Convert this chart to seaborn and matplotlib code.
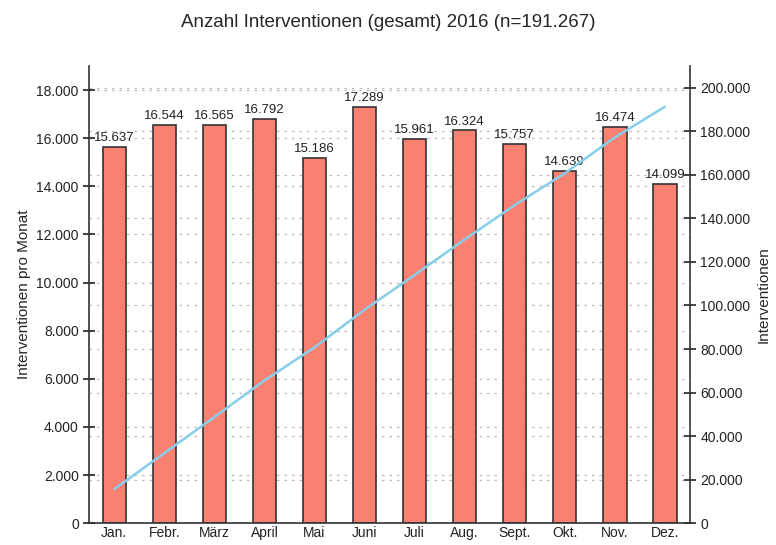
import matplotlib
matplotlib.use("Agg")
import matplotlib.pyplot as plt
import matplotlib.ticker as mticker
import seaborn as sns
import numpy as np
import pandas as pd

months = ["Jan.", "Febr.", "März", "April", "Mai", "Juni", "Juli", "Aug.",
          "Sept.", "Okt.", "Nov.", "Dez."]
monthly = [15637, 16544, 16565, 16792, 15186, 17289, 15961, 16324,
           15757, 14639, 16474, 14099]
cumulative = np.cumsum(monthly)


def de_fmt(v, pos=None):
    return f"{int(round(v)):,}".replace(",", ".")


sns.set_style("white")
plt.rcParams['font.family'] = ['Liberation Sans', 'DejaVu Sans']

df = pd.DataFrame({"month": months, "value": monthly})

fig = plt.figure(figsize=(7.76, 5.45), dpi=100)
ax = fig.add_axes([0.115, 0.04, 0.774, 0.839])

sns.barplot(data=df, x="month", y="value", color="salmon", saturation=1,
            edgecolor="#333333", linewidth=1.2, width=0.47, ax=ax)
ax.bar_label(ax.containers[0], labels=[de_fmt(v) for v in monthly],
             fontsize=9.5, padding=2, color="#222222")

ax.set_ylim(0, 19000)
ax.set_xlim(-0.5, 11.5)
ax.yaxis.set_major_locator(mticker.MultipleLocator(2000))
ax.yaxis.set_major_formatter(mticker.FuncFormatter(de_fmt))
ax.set_ylabel("Interventionen pro Monat", fontsize=11)
ax.set_xlabel("")
ax.grid(axis="y", linestyle=(0, (2, 4)), color="#bbbbbb", linewidth=0.9)
ax.set_axisbelow(True)

ax2 = ax.twinx()
sns.lineplot(x=np.arange(len(months)), y=cumulative, color="skyblue",
             linewidth=1.8, ax=ax2)
ax2.set_ylim(0, 210000)
ax2.yaxis.set_major_locator(mticker.MultipleLocator(20000))
ax2.yaxis.set_major_formatter(mticker.FuncFormatter(de_fmt))
ax2.set_ylabel("Interventionen", fontsize=11)
ax2.grid(axis="y", linestyle=(0, (2, 4)), color="#bbbbbb", linewidth=0.9)
ax2.set_zorder(ax.get_zorder() - 1)
ax.patch.set_visible(False)
# keep the cumulative line on top of the bars
ax2.lines[0].remove()
ax.plot(np.arange(len(months)), cumulative, color="skyblue", linewidth=1.8,
        transform=ax2.transData, zorder=5)

for a in (ax, ax2):
    a.spines["top"].set_visible(False)
    for s in ("left", "right", "bottom"):
        a.spines[s].set_color("#333333")
        a.spines[s].set_linewidth(1.2)
    a.tick_params(axis="y", direction="inout", length=8, width=1.2,
                  labelsize=10, colors="#222222")
    a.tick_params(axis="x", length=0, pad=2, labelsize=10, colors="#222222")
ax.spines["right"].set_visible(False)
ax2.spines["left"].set_visible(False)
ax2.spines["bottom"].set_visible(False)

fig.suptitle("Anzahl Interventionen (gesamt) 2016 (n=191.267)", fontsize=13.5,
             y=0.975)

fig.savefig("out.png", dpi=100)
